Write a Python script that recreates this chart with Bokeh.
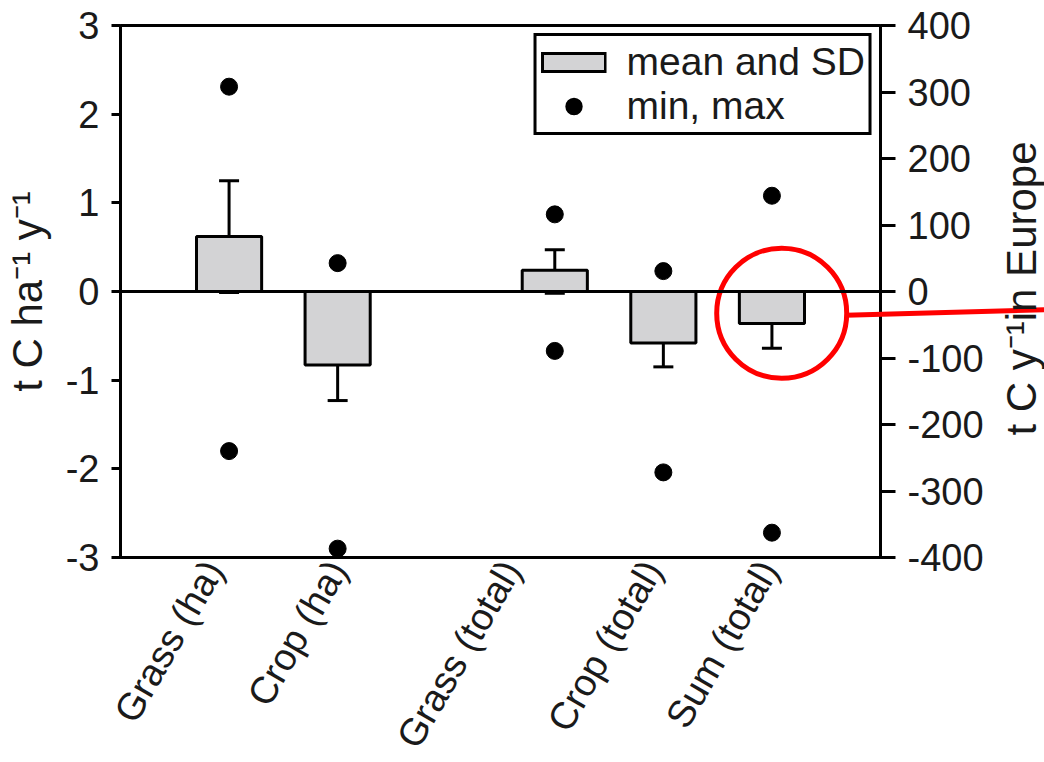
import math
from bokeh.plotting import figure
from bokeh.layouts import row
from bokeh.models import (Range1d, LinearAxis, FixedTicker, ColumnDataSource, Whisker,
                          TeeHead, Span, Legend, LegendItem)
from bokeh.core.properties import value
from bokeh.embed import file_html
from bokeh.resources import INLINE

# ---- data ----
categories = ["Grass (ha)", "Crop (ha)", "Grass (total)", "Crop (total)", "Sum (total)"]
x_pos = [1, 2, 4, 5, 6]                     # slot 3 is left empty
label_pos = [0.86, 2.0, 3.6, 4.9, 5.97]
mean_vals = [0.62, -0.83, 0.24, -0.58, -0.36]
sd_upper = [1.25, -0.42, 0.47, -0.30, -0.07]
sd_lower = [-0.01, -1.23, -0.02, -0.85, -0.64]
max_vals = [2.31, 0.32, 0.87, 0.23, 1.08]
min_vals = [-1.80, -2.90, -0.67, -2.04, -2.72]

left_ticks = [-3, -2, -1, 0, 1, 2, 3]
right_ticks = [-400, -300, -200, -100, 0, 100, 200, 300, 400]
left_label = "t C ha\u207b\u00b9 y\u207b\u00b9"
right_label = "t C y\u207b\u00b9in Europe"

# ---- layout constants ----
W, H = 1044, 762
BL, BR, BT, BB = 120, 164, 25, 205
FW, FH = W - BL - BR, H - BT - BB
X0, X1, Y0, Y1 = 0, 7, -3, 3

FONT = "Liberation Sans"
FS = "38px"
FS_TITLE = "42px"
TXT = "#1a1a1a"
NAN = float("nan")

p = figure(frame_width=FW, frame_height=FH, output_backend="svg", toolbar_location=None,
           x_range=Range1d(X0, X1), y_range=Range1d(Y0, Y1),
           min_border_left=BL, min_border_right=BR, min_border_top=BT,
           min_border_bottom=BB)
p.extra_y_ranges = {"eu": Range1d(-400, 400)}
p.xgrid.visible = False
p.ygrid.visible = False
p.background_fill_color = "white"
p.border_fill_color = "white"
p.outline_line_color = "black"
p.outline_line_width = 3

src = ColumnDataSource(dict(x=x_pos, mean=mean_vals, up=sd_upper, lo=sd_lower,
                            mx=max_vals, mn=min_vals))

bars = p.vbar(x="x", top="mean", bottom=0, width=0.6, source=src,
              fill_color="#d3d3d5", line_color="black", line_width=3)

p.add_layout(Span(location=0, dimension="width", line_color="black", line_width=3))

wh = Whisker(base="x", upper="up", lower="lo", source=src, line_color="black", line_width=3,
             upper_head=TeeHead(size=20, line_width=3, line_color="black"),
             lower_head=TeeHead(size=20, line_width=3, line_color="black"))
p.add_layout(wh)

dots_max = p.scatter(x="x", y="mx", source=src, size=17, color="black")
dots_min = p.scatter(x="x", y="mn", source=src, size=17, color="black")

# legend-only renderers (NaN data, nothing drawn in the plot)
leg_src = ColumnDataSource(dict(x=[NAN], y=[NAN]))
leg_box_outer = p.line(x="x", y="y", source=leg_src, line_color="black", line_width=21,
                       line_cap="butt")
leg_box_inner = p.line(x="x", y="y", source=leg_src, line_color="#d3d3d5", line_width=15,
                       line_cap="butt", line_dash="0 3 60 200")
leg_dot = p.scatter(x="x", y="y", source=leg_src, size=14, color="black", line_width=3)

# red highlight around "Sum (total)"
hx = x_pos[4] + 0.09
hy = (sd_upper[4] + sd_lower[4]) / 2 + 0.11
p.scatter(x=[hx], y=[hy], size=130, marker="circle", fill_color=None,
          line_color="#ff0000", line_width=5)

# axes
xa = p.xaxis[0]
xa.ticker = FixedTicker(ticks=label_pos)
xa.major_label_overrides = {v: c for v, c in zip(label_pos, categories)}
xa.major_label_orientation = math.radians(60)
xa.major_tick_line_color = None
xa.minor_tick_line_color = None
xa.axis_line_width = 3
xa.axis_line_color = "black"
xa.major_label_text_font = FONT
xa.major_label_text_font_size = FS
xa.major_label_text_color = TXT
xa.major_label_standoff = 0

ya = p.yaxis[0]
ya.ticker = FixedTicker(ticks=left_ticks)
ya.major_label_overrides = {v: str(v) for v in left_ticks}
ya.minor_tick_line_color = None
ya.major_tick_in = 0
ya.major_tick_out = 9
ya.major_tick_line_width = 3
ya.axis_line_width = 3
ya.major_label_text_font = FONT
ya.major_label_text_font_size = FS
ya.major_label_text_color = TXT
ya.major_label_standoff = 12
ya.axis_label = left_label
ya.axis_label_text_font = FONT
ya.axis_label_text_font_size = FS_TITLE
ya.axis_label_text_font_style = "normal"
ya.axis_label_text_color = TXT
ya.axis_label_standoff = 12

ra = LinearAxis(y_range_name="eu", ticker=FixedTicker(ticks=right_ticks))
ra.major_label_overrides = {v: str(v) for v in right_ticks}
ra.minor_tick_line_color = None
ra.major_tick_in = 0
ra.major_tick_out = 15
ra.major_tick_line_width = 3
ra.axis_line_width = 3
ra.major_label_text_font = FONT
ra.major_label_text_font_size = FS
ra.major_label_text_color = TXT
ra.major_label_standoff = 12
p.add_layout(ra, "right")

legend = Legend(items=[LegendItem(label="mean and SD", renderers=[leg_box_outer, leg_box_inner]),
                       LegendItem(label="min, max", renderers=[leg_dot])],
                location="top_right", margin=8, padding=4, spacing=0,
                glyph_width=66, glyph_height=36, label_standoff=20,
                label_text_font=FONT, label_text_font_size="39px",
                label_text_color=TXT, label_height=30,
                border_line_color="black", border_line_width=3, border_line_alpha=1.0,
                background_fill_alpha=1.0)
p.add_layout(legend)

# ---- transparent overlay: full canvas width, same vertical frame as the chart ----
ux = (X1 - X0) / FW
ov = figure(width=W, height=H, output_backend="svg", toolbar_location=None,
            x_range=Range1d(X0 - BL * ux, X1 + BR * ux),
            y_range=Range1d(Y0, Y1),
            x_axis_location=None, y_axis_location=None,
            min_border_left=0, min_border_right=0,
            min_border_top=BT, min_border_bottom=BB)
ov.grid.visible = False
ov.background_fill_alpha = 0
ov.border_fill_alpha = 0
ov.outline_line_color = None
ov.styles = {"position": "absolute", "left": "0px", "top": "0px"}

# red connector from the highlight circle out to the right edge
ov.line(x=[hx + 0.59, X1 + BR * ux + 0.2], y=[hy - 0.06, hy + 0.01],
        line_color="#ff0000", line_width=5)
# right-axis title (reads bottom-to-top, centred on the frame)
ov.text(x=[X1 + 141 * ux], y=[(Y0 + Y1) / 2], text=[right_label], angle=math.pi / 2,
        text_align="center", text_baseline="middle",
        text_font=value(FONT), text_font_size=FS_TITLE, text_color=TXT)

layout = row(p, ov)
open("out.html", "w").write(file_html(layout, INLINE))
